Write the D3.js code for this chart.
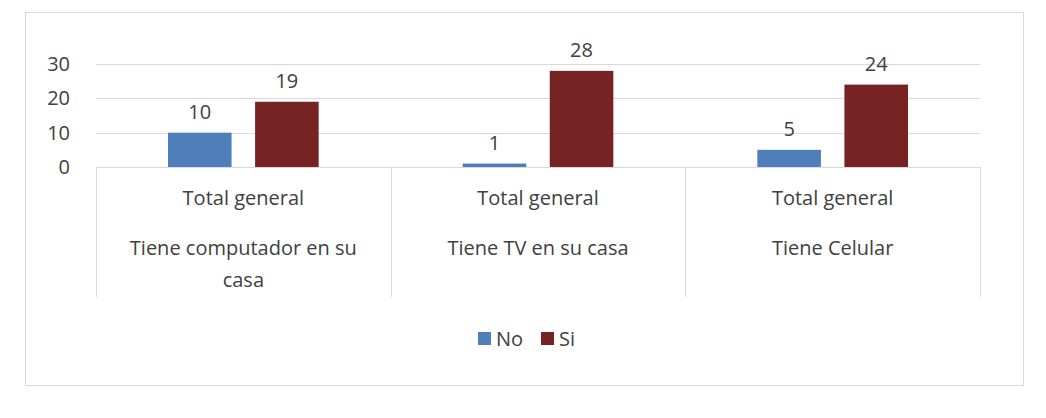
<html>
<head>
<script src="https://cdn.jsdelivr.net/npm/d3@7"></script>
<style>
body { margin: 0; background: #fff; }
text { font-family: "Open Sans", "Liberation Sans", sans-serif; fill: #404040; }
</style>
</head>
<body>
<svg id="chart" width="1046" height="418"></svg>
<script>
var categories = ['Tiene computador en su casa', 'Tiene TV en su casa', 'Tiene Celular'];
var catLines = [['Tiene computador en su', 'casa'], ['Tiene TV en su casa'], ['Tiene Celular']];
var groupLabel = 'Total general';
var series = ['No', 'Si'];
var noValues = [10, 1, 5];
var siValues = [19, 28, 24];
var yTicks = [0, 10, 20, 30];
var colors = ['#4f7fba', '#772324'];

var svg = d3.select('#chart');
svg.append('rect').attr('x', 25.5).attr('y', 12.5).attr('width', 998).attr('height', 373)
	.attr('fill', '#fff').attr('stroke', '#d9d9d9');

var x = d3.scaleBand().domain(categories).range([96, 980]);
var xs = d3.scaleBand().domain(series).range([72, x.bandwidth() - 72]).paddingInner(0.27);
var y = d3.scaleLinear().domain([0, 30]).range([167, 64]);

svg.selectAll('.grid').data(yTicks).enter().append('line')
	.attr('x1', 96).attr('x2', 980)
	.attr('y1', function(d) { return Math.round(y(d)) + 0.5; })
	.attr('y2', function(d) { return Math.round(y(d)) + 0.5; })
	.attr('stroke', '#d9d9d9');

svg.selectAll('.ytick').data(yTicks).enter().append('text')
	.attr('x', 70).attr('y', function(d) { return y(d) + 7; })
	.attr('text-anchor', 'end').style('font-size', '20px').text(function(d) { return d; });

var seps = categories.map(function(c) { return x(c); }).concat([980]);
svg.selectAll('.sep').data(seps).enter().append('line')
	.attr('x1', function(d) { return Math.round(d) + 0.5; })
	.attr('x2', function(d) { return Math.round(d) + 0.5; })
	.attr('y1', 167).attr('y2', 297).attr('stroke', '#d9d9d9');

var data = [noValues, siValues];
data.forEach(function(vals, si) {
	var g = svg.append('g');
	g.selectAll('rect').data(vals).enter().append('rect')
		.attr('x', function(d, i) { return x(categories[i]) + xs(series[si]); })
		.attr('width', xs.bandwidth())
		.attr('y', function(d) { return y(d); })
		.attr('height', function(d) { return y(0) - y(d); })
		.attr('fill', colors[si]);
	g.selectAll('text').data(vals).enter().append('text')
		.attr('x', function(d, i) { return x(categories[i]) + xs(series[si]) + xs.bandwidth() / 2; })
		.attr('y', function(d) { return y(d) - 14; })
		.attr('text-anchor', 'middle').style('font-size', '20px').text(function(d) { return d; });
});

categories.forEach(function(c, i) {
	var cx = x(c) + x.bandwidth() / 2;
	svg.append('text').attr('x', cx).attr('y', 205).attr('text-anchor', 'middle')
		.style('font-size', '20px').text(groupLabel);
	catLines[i].forEach(function(l, j) {
		svg.append('text').attr('x', cx).attr('y', 255 + j * 32).attr('text-anchor', 'middle')
			.style('font-size', '20px').text(l);
	});
});

var lx = [478, 541];
series.forEach(function(s, i) {
	svg.append('rect').attr('x', lx[i]).attr('y', 332).attr('width', 13).attr('height', 13).attr('fill', colors[i]);
	svg.append('text').attr('x', lx[i] + 18).attr('y', 346).style('font-size', '20px').text(s);
});
</script>
</body>
</html>
